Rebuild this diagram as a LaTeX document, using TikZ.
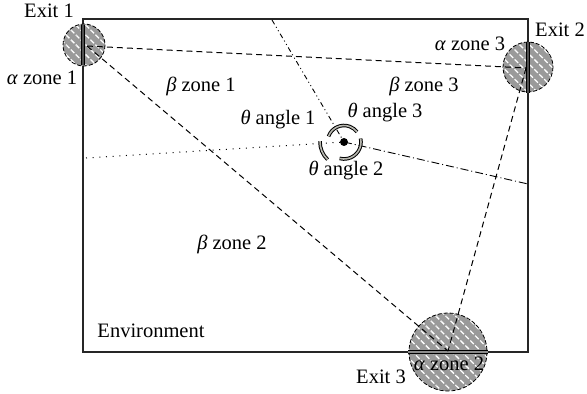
\documentclass[tikz,border=0pt]{standalone}
\usepackage{fontspec}
\setmainfont{Liberation Serif}
\usetikzlibrary{patterns.meta}
\definecolor{cHatch}{HTML}{9A9A9A}
\definecolor{cBar}{HTML}{505050}
\definecolor{cArc}{HTML}{B8B8B0}
\newcommand{\lblfont}{\fontsize{20.5bp}{24bp}\selectfont}
\tikzset{
  envbox/.style   ={draw=black!85, line width=1.2pt},
  exitzone/.style ={draw=black, dash pattern=on 4pt off 2pt, line width=0.8pt,
                    preaction={fill=cHatch},
                    pattern={Lines[angle=-45, distance=7pt, line width=1.3pt]},
                    pattern color=white},
  exitbar/.style  ={line width=1.1pt, double=cBar, double distance=2pt},
  zoneline/.style ={dash pattern=on 6pt off 4pt, line width=1pt},
  splitA/.style   ={dash pattern=on 1pt off 5.7pt, line width=1pt},
  splitB/.style   ={dash pattern=on 8pt off 3pt on 1pt off 3pt, line width=0.9pt},
  splitC/.style   ={dash pattern=on 5pt off 3pt on 1pt off 3pt on 1pt off 3pt, line width=0.9pt},
  anglearc/.style ={line width=1pt, double=cArc, double distance=1.6pt},
  agent/.style    ={circle, fill=black, inner sep=0pt, minimum size=8pt},
  lbl/.style      ={font=\lblfont, inner sep=0pt},
}

\begin{document}
\begin{tikzpicture}[x=1bp, y=-1bp]
  \useasboundingbox (0,0) rectangle (587,393);

  % ============================================================
  % ENVIRONMENT + EXITS
  % ============================================================
  \draw[envbox] (83,19) rectangle (528,352);

  \coordinate (e1) at (84,45);
  \coordinate (e2) at (528,67);
  \coordinate (e3) at (448,352);

  \draw[exitzone] (e1) circle (21);
  \draw[exitzone] (e2) circle (25);
  \draw[exitzone] (e3) circle (39);

  % exit doors on the walls
  \coordinate (d1a) at (83,25);  \coordinate (d1b) at (83,65);
  \coordinate (d2a) at (528,42); \coordinate (d2b) at (528,93);
  \coordinate (d3a) at (408,352); \coordinate (d3b) at (488,352);
  \draw[exitbar] (d1a) -- (d1b);
  \draw[exitbar] (d2a) -- (d2b);
  \draw[exitbar, double=black!45] (d3a) -- (d3b);

  % --- zone borders between exits ---
  \coordinate (z1) at (87,46);
  \coordinate (z2) at (526,68);
  \coordinate (z3) at (448,351);
  \draw[zoneline] (z1) -- (z2);
  \draw[zoneline] (z1) -- (z3);
  \draw[zoneline] (z2) -- (z3);

  % ============================================================
  % AGENT AND ITS VIEW SECTORS
  % ============================================================
  \node[agent] (c) at (344,142) {};

  \coordinate (wl) at (86,158);
  \coordinate (wt) at (272,20);
  \coordinate (wr) at (528,184);
  \draw[splitA] (wl) -- (c.center);
  \draw[splitC] (wt) -- (c.center);
  \draw[splitB] (c.center) -- (wr);

  \draw[anglearc] (c.center) ++(133:24) arc[start angle=133, end angle=182, radius=24];
  \draw[anglearc] (c.center) ++(-12:17) arc[start angle=-12, end angle=105, radius=17];
  \draw[anglearc] (c.center) ++(200:16.5) arc[start angle=200, end angle=322, radius=16.5];

  % ============================================================
  % LABELS
  % ============================================================
  \node[lbl] (x1)  at (49,11)   {Exit 1};
  \node[lbl] (x2)  at (560,30)  {Exit 2};
  \node[lbl] (x3)  at (381,377) {Exit 3};
  \node[lbl] (a1)  at (42,78)   {\textit{α} zone 1};
  \node[lbl] (a3)  at (470,44)  {\textit{α} zone 3};
  \node[lbl] (a2)  at (449,364) {\textit{α} zone 2};
  \node[lbl] (b1)  at (201,86)  {\textit{β} zone 1};
  \node[lbl] (b3)  at (424,86)  {\textit{β} zone 3};
  \node[lbl] (b2)  at (232,244) {\textit{β} zone 2};
  \node[lbl] (t1)  at (278,120) {\textit{θ} angle 1};
  \node[lbl] (t3)  at (385,113) {\textit{θ} angle 3};
  \node[lbl] (t2)  at (346,171) {\textit{θ} angle 2};
  \node[lbl] (env) at (151,331) {Environment};

\end{tikzpicture}
\end{document}
